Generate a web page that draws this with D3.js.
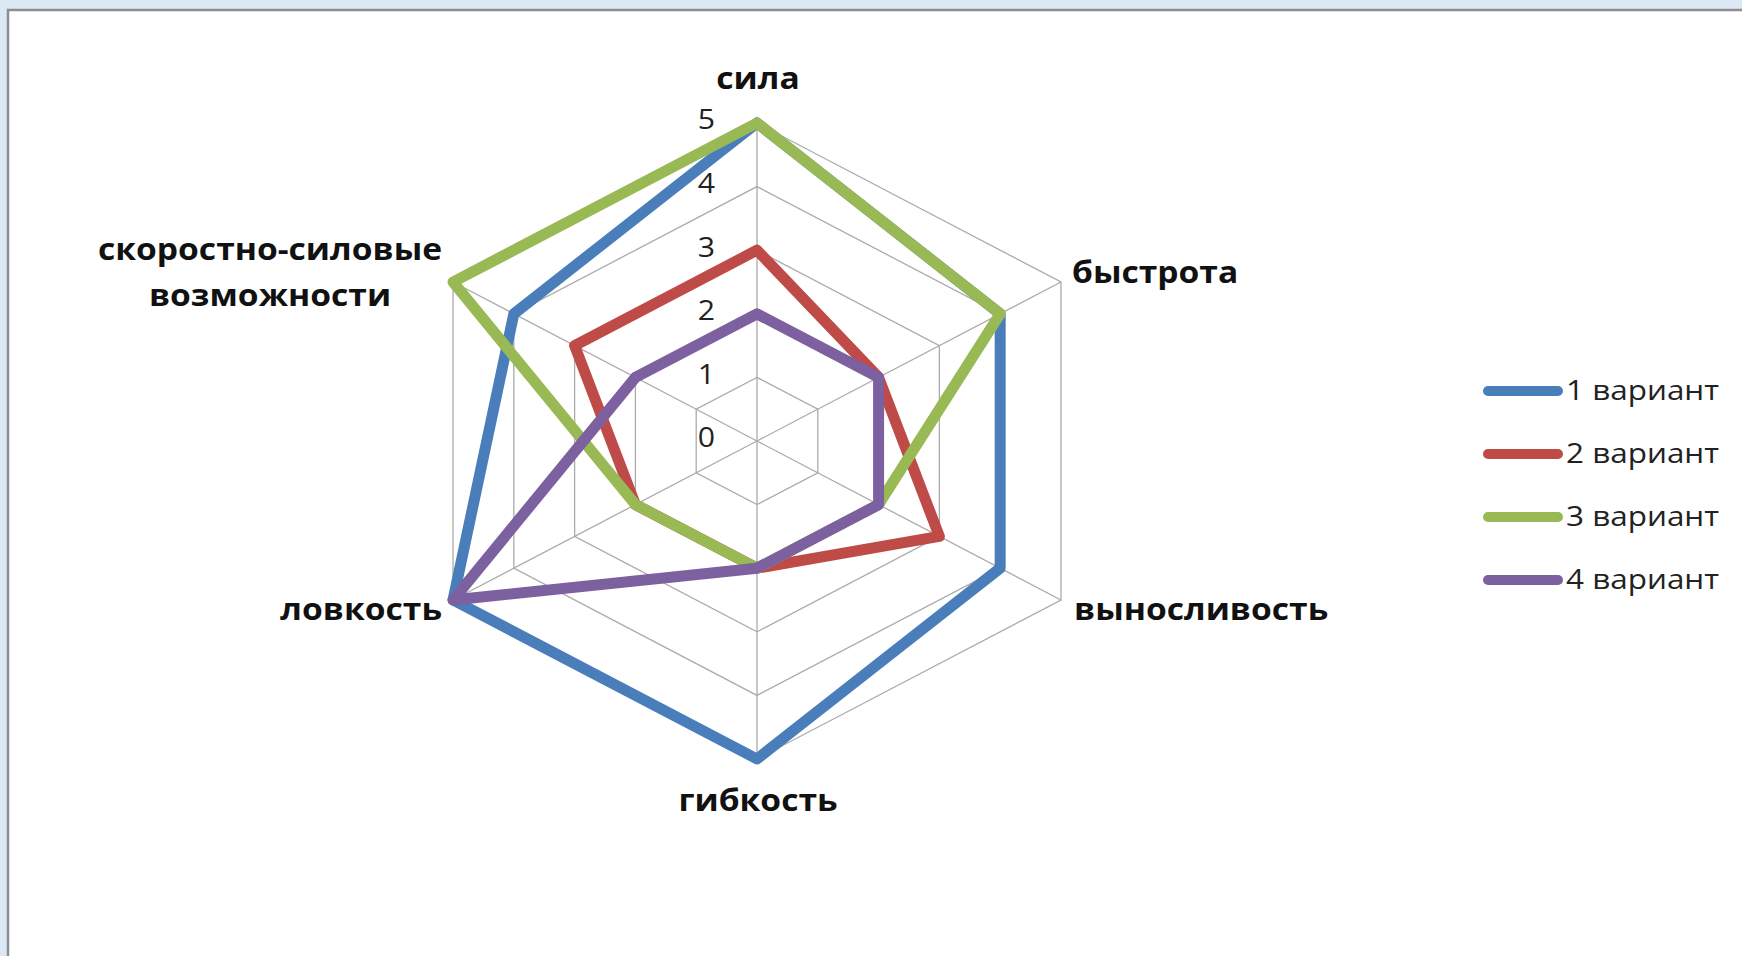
<!DOCTYPE html>
<html>
<head>
<meta charset="utf-8">
<script src="https://cdn.jsdelivr.net/npm/d3@7/dist/d3.min.js"></script>
<style>
  html, body { margin: 0; padding: 0; background: #dce8f4; }
  svg { display: block; }
</style>
</head>
<body>
<svg id="chart" width="1742" height="956"></svg>
<script>
// Axes of the radar, clockwise from the top
const categories = ["сила", "быстрота", "выносливость", "гибкость", "ловкость", "скоростно-силовые возможности"];
const seriesNames = ["1 вариант", "2 вариант", "3 вариант", "4 вариант"];
const variant1 = [5, 4, 4, 5, 5, 4];
const variant2 = [3, 2, 3, 2, 2, 3];
const variant3 = [5, 4, 2, 2, 2, 5];
const variant4 = [2, 2, 2, 2, 5, 2];
const tickValues = [0, 1, 2, 3, 4, 5];
const colors = ["#4a7ebb", "#be4b48", "#98b954", "#7d60a0"];

const seriesValues = [variant1, variant2, variant3, variant4];

const svg = d3.select("#chart");
const W = 1742, H = 956;
const stretch = 1.12; // horizontal stretch of the whole chart, applied to text too

// chart area frame
svg.append("rect").attr("x", 8).attr("y", 10).attr("width", W).attr("height", H)
  .attr("fill", "#ffffff");
svg.append("path").attr("d", `M8,${H} L8,10 L${W},10`)
  .attr("fill", "none").attr("stroke", "#8a8d92").attr("stroke-width", 2.5);

const cx = 757, cy = 441;
const rx = 351, ry = 318;
const xr = d3.scaleLinear().domain([0, 5]).range([0, rx]);
const yr = d3.scaleLinear().domain([0, 5]).range([0, ry]);
const angle = d3.scalePoint().domain(d3.range(categories.length)).range([0, 2 * Math.PI * (categories.length - 1) / categories.length]);

const px = (i, v) => cx + xr(v) * Math.sin(angle(i));
const py = (i, v) => cy - yr(v) * Math.cos(angle(i));

const g = svg.append("g");

// grid rings
const ring = d3.line().x(d => px(d.i, d.v)).y(d => py(d.i, d.v)).curve(d3.curveLinearClosed);
tickValues.filter(t => t > 0).forEach(t => {
  g.append("path")
    .attr("d", ring(categories.map((c, i) => ({ i, v: t }))))
    .attr("fill", "none").attr("stroke", "#ababab").attr("stroke-width", 1.3);
});
// spokes
categories.forEach((c, i) => {
  g.append("line")
    .attr("x1", px(i, 0)).attr("y1", py(i, 0))
    .attr("x2", px(i, 5)).attr("y2", py(i, 5))
    .attr("stroke", "#ababab").attr("stroke-width", 1.3);
});

// series polygons
seriesValues.forEach((vals, s) => {
  g.append("path")
    .attr("d", ring(vals.map((v, i) => ({ i, v }))))
    .attr("fill", "none")
    .attr("stroke", colors[s])
    .attr("stroke-width", 11)
    .attr("stroke-linejoin", "round");
});

// text placed at (x, y) and stretched horizontally around that point
function stretchedText(parent, x, y) {
  return parent.append("g")
    .attr("transform", `translate(${x},${y}) scale(${stretch},1)`)
    .append("text");
}

// radial tick labels
tickValues.forEach(d => {
  stretchedText(g, cx - 42, py(0, d) - 3)
    .attr("dy", "0.35em")
    .attr("text-anchor", "end")
    .attr("font-family", "Open Sans")
    .attr("font-size", 27)
    .attr("fill", "#222")
    .text(d);
});

// category labels
const labelPos = [
  { x: 758, y: 78, anchor: "middle" },
  { x: 1072, y: 272, anchor: "start" },
  { x: 1074, y: 609, anchor: "start" },
  { x: 758, y: 800, anchor: "middle" },
  { x: 442, y: 609, anchor: "end" },
  { x: 270, y: 249, anchor: "middle" }
];
labelPos.forEach((p, i) => {
  const t = stretchedText(g, p.x, p.y)
    .attr("text-anchor", p.anchor)
    .attr("font-family", "Open Sans")
    .attr("font-weight", "bold")
    .attr("font-size", 30)
    .attr("fill", "#111");
  categories[i].split(" ").forEach((ln, k) => {
    t.append("tspan").attr("x", 0).attr("y", k * 47).attr("dy", "0.35em").text(ln);
  });
});

// legend
const legend = svg.append("g");
seriesNames.forEach((name, s) => {
  const y = 391 + s * 63;
  legend.append("line")
    .attr("x1", 1488).attr("x2", 1558).attr("y1", y).attr("y2", y)
    .attr("stroke", colors[s]).attr("stroke-width", 10).attr("stroke-linecap", "round");
  stretchedText(legend, 1566, y)
    .attr("dy", "0.35em")
    .attr("font-family", "Open Sans").attr("font-size", 27).attr("fill", "#222")
    .attr("transform", "scale(1.04,1)")
    .text(name);
});
</script>
</body>
</html>
